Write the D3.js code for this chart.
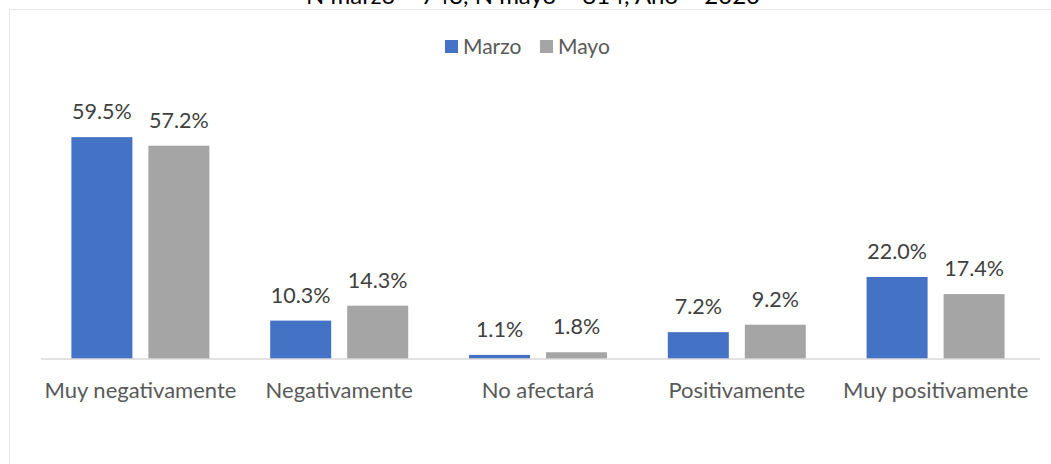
<!DOCTYPE html>
<html lang="en">
	<head>
		<meta charset="utf-8">
		<title>Marzo vs Mayo</title>
		<script type="text/javascript" src="https://cdn.jsdelivr.net/npm/d3@7"></script>
		<style type="text/css">
			body { margin: 0; background: #fff; }
			text { font-family: "Lato", "Open Sans", sans-serif; }
		</style>
	</head>
	<body>
		<script type="text/javascript">

			var w = 1051;
			var h = 464;

			var categories = ["Muy negativamente", "Negativamente", "No afectará", "Positivamente", "Muy positivamente"];
			var seriesNames = ["Marzo", "Mayo"];
			var marzo = [59.5, 10.3, 1.1, 7.2, 22.0];
			var mayo = [57.2, 14.3, 1.8, 9.2, 17.4];
			var colors = ["#4472C4", "#A5A5A5"];
			var title = "N marzo = 743, N mayo = 814, Año = 2020";

			var dataset = categories.map(function(c, i) {
				return {cat: c, values: [marzo[i], mayo[i]]};
			});

			var svg = d3.select("body")
						.append("svg")
						.attr("width", w)
						.attr("height", h);

			//chart frame
			svg.append("rect")
			.attr("x", 9.5)
			.attr("y", 9.5)
			.attr("width", 1060)
			.attr("height", 480)
			.attr("fill", "none")
			.attr("stroke", "#E6E6E6");

			//title, cut off at top like the original
			svg.append("text")
			.attr("x", 533)
			.attr("y", 4)
			.attr("text-anchor", "middle")
			.attr("font-size", 24)
			.attr("fill", "#000")
			.text(title);

			var xScale = d3.scaleBand()
			.domain(categories)
			.range([41, 1035]);

			var xInner = d3.scaleBand()
			.domain(seriesNames)
			.range([0, 138])
			.paddingInner(16 / 77);

			var yScale = d3.scaleLinear()
			.domain([0, 70])
			.range([359, 98]);

			var groups = svg.selectAll("g.cat")
			.data(dataset)
			.enter()
			.append("g")
			.attr("class", "cat")
			.attr("transform", function(d) {
				return "translate(" + (xScale(d.cat) + xScale.bandwidth() / 2 - 69) + ",0)";
			});

			groups.selectAll("rect")
			.data(function(d) { return d.values.map(function(v, i) { return {name: seriesNames[i], v: v, i: i}; }); })
			.enter()
			.append("rect")
			.attr("x", function(d) { return xInner(d.name); })
			.attr("y", function(d) { return yScale(d.v); })
			.attr("width", xInner.bandwidth())
			.attr("height", function(d) { return yScale(0) - yScale(d.v); })
			.attr("fill", function(d) { return colors[d.i]; });

			groups.selectAll("text")
			.data(function(d) { return d.values.map(function(v, i) { return {name: seriesNames[i], v: v}; }); })
			.enter()
			.append("text")
			.attr("x", function(d) { return xInner(d.name) + xInner.bandwidth() / 2; })
			.attr("y", function(d) { return yScale(d.v) - 18; })
			.attr("text-anchor", "middle")
			.attr("font-size", 21.5)
			.attr("fill", "#404040")
			.text(function(d) { return d.v.toFixed(1) + "%"; });

			//x axis
			var xAxis = svg.append("g")
			.attr("transform", "translate(0,359)")
			.call(d3.axisBottom(xScale).tickSize(0).tickPadding(23));
			xAxis.select(".domain").remove();
			xAxis.append("line")
			.attr("x1", 41)
			.attr("x2", 1040)
			.attr("stroke", "#D9D9D9")
			.attr("stroke-width", 1.5);
			xAxis.selectAll("text")
			.attr("font-size", 22)
			.attr("fill", "#595959")
			.style("font-family", "Lato, sans-serif");

			//legend
			var legendX = [445, 540];
			var legend = svg.selectAll("g.legend")
			.data(seriesNames)
			.enter()
			.append("g")
			.attr("class", "legend")
			.attr("transform", function(d, i) { return "translate(" + legendX[i] + ",40)"; });

			legend.append("rect")
			.attr("width", 13)
			.attr("height", 13)
			.attr("fill", function(d, i) { return colors[i]; });

			legend.append("text")
			.attr("x", 18)
			.attr("y", 14)
			.attr("font-size", 21)
			.attr("fill", "#595959")
			.text(function(d) { return d; });

		</script>
	</body>
</html>
